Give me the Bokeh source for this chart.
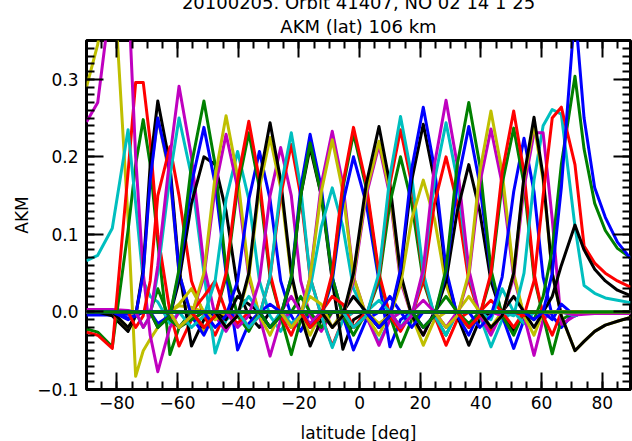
from bokeh.plotting import figure
from bokeh.models import Range1d, LinearAxis, FixedTicker, Title, ColumnDataSource, CustomJSTickFormatter
from bokeh.embed import file_html
from bokeh.resources import INLINE

# ---------------- data ----------------
lat_nodes = [-90, -86.3, -81.5, -76.3, -73.8, -71.3, -69, -66.5, -62.5, -59.5,
             -55.4, -51.3, -47.6, -44, -40.2, -36.5, -33, -29.5, -26, -22.5,
             -19.4, -16.3, -12.6, -9, -5.5, -2, 2.2, 6.4, 10, 13.5,
             17.2, 21, 24.7, 28.5, 32.2, 36, 39.6, 43.3, 47, 50.8,
             54.2, 57.5, 60.5, 63.5, 66.5, 71, 74, 77.5, 81, 85, 89.3]

# first node index of each averaging-kernel row (zero outside the listed values)
kernel_start = [0, 0, 0, 0, 0, 0, 1, 2, 0, 0, 0, 0, 3, 3, 3, 6, 4, 5, 5, 8,
                7, 7, 7, 10, 10, 9, 9, 12, 12, 11, 11, 14, 14, 13, 13, 16, 19, 15, 15, 18,
                20, 17, 17, 17, 22, 19, 19, 19, 24, 21, 21, 21, 26, 23, 23, 23, 27, 25, 25, 25,
                30, 27, 27, 27, 32, 29, 29, 29, 34, 31, 31, 31, 36, 36, 33, 33, 38, 36, 35, 35,
                39, 38, 37, 37, 42, 41, 40, 44, 44, 44, 42, 41, 0]

kernel_values = [
    [-0.004, -0.004, -0.004, -0.003, -0.002, 0.0],
    [0.0],
    [0.001, 0.001, 0.0],
    [0.0],
    [0.003, 0.003, 0.003, 0.002, 0.0],
    [0.29, 0.345, 0.46, 0.12, -0.083, -0.05, -0.035, -0.02, 0.0, 0.008, 0.006, 0.0],
    [0.0, -0.005, -0.025, -0.005, 0.0],
    [0.0, -0.008, -0.004, 0.0],
    [-0.022, -0.026, -0.045, 0.105, 0.19, 0.248, 0.19, 0.09, -0.055, -0.02, 0.0],
    [-0.026, -0.03, -0.047, 0.18, 0.296, 0.296, 0.22, 0.1, 0.0, -0.044, -0.01, 0.0],
    [0.066, 0.073, 0.108, 0.235, 0.14, 0.04, 0.02, 0.013, -0.015, 0.0],
    [0.245, 0.27, 0.42, 0.42, 0.2, 0.05, -0.03, -0.077, -0.02, 0.0],
    [-0.02, -0.005, 0.05, 0.175, 0.25, 0.175, 0.05, -0.005, -0.025],
    [-0.02, -0.005, 0.055, 0.19, 0.272, 0.19, 0.055, -0.044, -0.01],
    [-0.01, -0.005, 0.05, 0.17, 0.25, 0.18, 0.05, -0.005, -0.03, 0.0],
    [0.0, 0.03, -0.01, -0.02, -0.01, 0.0],
    [-0.02, -0.005, 0.04, 0.15, 0.213, 0.15, 0.04, -0.005, -0.03, 0.0],
    [-0.02, -0.005, 0.05, 0.175, 0.25, 0.175, 0.05, -0.053, -0.01, 0.0],
    [-0.02, -0.005, 0.06, 0.2, 0.291, 0.2, 0.06, -0.005, -0.025, 0.0],
    [0.0, 0.01, 0.03, 0.0, -0.01, 0.0],
    [-0.02, -0.005, 0.04, 0.14, 0.2, 0.19, 0.13, 0.03, -0.005, -0.02, 0.0],
    [-0.015, -0.005, 0.05, 0.165, 0.238, 0.165, 0.05, -0.049, -0.015, 0.0],
    [-0.02, -0.005, 0.055, 0.19, 0.272, 0.19, 0.055, -0.005, -0.025, 0.0],
    [0.0, 0.02, 0.04, 0.0, -0.015, 0.0],
    [-0.02, -0.005, 0.04, 0.145, 0.207, 0.145, 0.04, -0.005, -0.025, 0.0],
    [-0.02, -0.005, 0.045, 0.16, 0.229, 0.16, 0.045, -0.005, -0.057, -0.01, 0.0],
    [-0.02, -0.005, 0.05, 0.175, 0.253, 0.175, 0.05, -0.005, -0.03, 0.0],
    [0.0, -0.01, 0.02, 0.01, 0.0],
    [-0.02, -0.005, 0.04, 0.145, 0.207, 0.145, 0.04, -0.005, -0.025, 0.0],
    [-0.02, -0.005, 0.045, 0.16, 0.231, 0.16, 0.045, -0.005, -0.055, -0.01, 0.0],
    [-0.02, -0.005, 0.05, 0.17, 0.246, 0.17, 0.05, -0.005, -0.03, 0.0],
    [0.0, 0.02, 0.0, -0.02, 0.0],
    [-0.02, -0.005, 0.04, 0.15, 0.212, 0.15, 0.04, -0.005, -0.025, 0.0],
    [-0.02, -0.005, 0.045, 0.16, 0.225, 0.16, 0.045, -0.005, -0.03, 0.0],
    [-0.02, -0.005, 0.05, 0.17, 0.244, 0.17, 0.05, -0.005, -0.044, -0.01, 0.0],
    [0.0, 0.01, 0.0, -0.02, 0.0],
    [0.0, 0.02, 0.0, -0.02, 0.0],
    [-0.02, -0.005, 0.045, 0.15, 0.216, 0.15, 0.045, -0.005, -0.044, -0.01, 0.0],
    [-0.02, -0.005, 0.045, 0.16, 0.231, 0.16, 0.045, -0.005, -0.046, -0.01, 0.0],
    [0.0, 0.02, 0.0, -0.015, 0.0],
    [0.0, 0.02, 0.01, -0.02, 0.0],
    [-0.02, -0.005, 0.04, 0.15, 0.212, 0.15, 0.04, -0.048, -0.01, 0.0],
    [-0.02, -0.005, 0.045, 0.16, 0.229, 0.16, 0.045, -0.005, -0.049, -0.01, 0.0],
    [-0.02, -0.005, 0.045, 0.15, 0.218, 0.15, 0.045, -0.005, -0.03, 0.0],
    [0.0, 0.02, 0.01, -0.02, 0.0],
    [-0.015, -0.005, 0.03, 0.11, 0.16, 0.11, 0.03, -0.005, -0.04, -0.01, 0.0],
    [-0.02, -0.005, 0.045, 0.165, 0.233, 0.165, 0.045, -0.005, -0.043, -0.01, 0.0],
    [-0.02, -0.005, 0.045, 0.155, 0.222, 0.155, 0.045, -0.005, -0.03, 0.0],
    [0.0, 0.02, 0.0, -0.02, 0.0],
    [-0.02, -0.005, 0.04, 0.14, 0.2, 0.14, 0.04, -0.045, -0.01, 0.0],
    [-0.02, -0.005, 0.045, 0.16, 0.23, 0.16, 0.045, -0.005, -0.045, -0.01, 0.0],
    [-0.02, -0.005, 0.05, 0.165, 0.238, 0.165, 0.05, -0.005, -0.025, 0.0],
    [0.0, 0.015, 0.0, -0.02, 0.0],
    [-0.02, -0.005, 0.04, 0.15, 0.215, 0.15, 0.04, -0.005, -0.03, 0.0],
    [-0.02, -0.005, 0.045, 0.155, 0.22, 0.155, 0.045, -0.005, -0.043, -0.01, 0.0],
    [-0.02, -0.005, 0.05, 0.165, 0.239, 0.165, 0.05, -0.005, -0.03, 0.0],
    [0.0, 0.02, 0.0, -0.02, 0.0],
    [-0.02, -0.005, 0.04, 0.14, 0.2, 0.14, 0.04, -0.005, -0.03, 0.0],
    [-0.02, -0.005, 0.045, 0.165, 0.235, 0.165, 0.045, -0.005, -0.043, -0.01, 0.0],
    [-0.02, -0.005, 0.05, 0.175, 0.252, 0.175, 0.05, -0.005, -0.03, 0.0],
    [0.0, 0.015, 0.0, -0.02, 0.0],
    [-0.015, -0.005, 0.035, 0.12, 0.17, 0.12, 0.035, -0.005, -0.02, 0.0],
    [-0.02, -0.005, 0.05, 0.17, 0.242, 0.17, 0.05, -0.005, -0.043, -0.01, 0.0],
    [-0.02, -0.005, 0.055, 0.185, 0.264, 0.185, 0.055, -0.005, -0.03, 0.0],
    [0.0, 0.02, 0.0, -0.015, 0.0],
    [-0.02, -0.005, 0.04, 0.14, 0.2, 0.14, 0.04, -0.005, -0.025, 0.0],
    [-0.02, -0.005, 0.05, 0.17, 0.244, 0.17, 0.05, -0.005, -0.045, -0.01, 0.0],
    [-0.02, -0.005, 0.055, 0.19, 0.273, 0.19, 0.055, -0.005, -0.03, 0.0],
    [0.0, 0.02, 0.0, -0.02, 0.0],
    [-0.02, -0.005, 0.04, 0.13, 0.19, 0.13, 0.04, -0.005, -0.025, 0.0],
    [-0.02, -0.005, 0.05, 0.165, 0.239, 0.165, 0.05, -0.005, -0.047, -0.01, 0.0],
    [-0.02, -0.005, 0.055, 0.19, 0.27, 0.19, 0.055, -0.005, -0.03, 0.0],
    [0.0, 0.015, 0.0, -0.02, 0.0],
    [0.0, -0.01, 0.03, 0.0, -0.015, 0.0],
    [-0.02, -0.005, 0.045, 0.165, 0.236, 0.165, 0.045, -0.005, -0.056, -0.01, 0.0],
    [-0.02, -0.005, 0.05, 0.18, 0.259, 0.18, 0.05, -0.005, -0.03, 0.0],
    [0.0, 0.02, 0.0, -0.02, 0.0],
    [-0.02, -0.005, 0.045, 0.155, 0.224, 0.155, 0.045, -0.005, -0.02, 0.0],
    [-0.02, -0.005, 0.045, 0.165, 0.237, 0.165, 0.045, -0.005, -0.054, -0.01, 0.0],
    [-0.02, -0.005, 0.05, 0.18, 0.259, 0.18, 0.05, -0.005, -0.03, 0.0, 0.0],
    [-0.005, 0.05, 0.17, 0.24, 0.261, 0.255, 0.11, 0.034, 0.024, 0.018, 0.015, 0.012],
    [-0.005, 0.045, 0.16, 0.231, 0.231, 0.12, -0.016, -0.005, 0.0],
    [-0.02, -0.005, 0.05, 0.17, 0.242, 0.17, 0.05, -0.005, -0.05, -0.038, -0.025, -0.017, -0.012, -0.007],
    [-0.02, -0.005, 0.05, 0.175, 0.251, 0.175, 0.05, -0.005, -0.05, -0.038, -0.025, -0.017, -0.012, -0.007],
    [0.0, -0.01, 0.01, -0.005, 0.0],
    [-0.01, 0.02, 0.08, 0.19, 0.304, 0.21, 0.14, 0.105, 0.082, 0.07],
    [-0.005, 0.04, 0.15, 0.25, 0.264, 0.19, 0.085, 0.063, 0.05, 0.04, 0.032],
    [0.0, -0.005, 0.0],
    [0.0, -0.004, -0.003, -0.002, -0.002, -0.002, -0.002],
    [0.0],
    [0.0, 0.02, 0.06, 0.112, 0.08, 0.055, 0.04, 0.028, 0.021],
    [-0.01, 0.0, 0.05, 0.16, 0.39, 0.25, 0.16, 0.122, 0.09, 0.069],
    [0.0],
]

line_colors = ["#0000ff", "#008000", "#ff0000", "#00bfbf", "#bf00bf", "#bfbf00", "#000000"]

x_ticks = [-80, -60, -40, -20, 0, 20, 40, 60, 80]
x_tick_labels = ["\u221280", "\u221260", "\u221240", "\u221220", "0", "20", "40", "60", "80"]
y_ticks = [-0.1, 0.0, 0.1, 0.2, 0.3]
y_tick_labels = ["\u22120.1", "0.0", "0.1", "0.2", "0.3"]
x_minor = [-90 + 5 * i for i in range(37)]
y_minor = [round(-0.1 + 0.01 * i, 2) for i in range(46)]

title_lines = ["20100205. Orbit 41407, NO 02 14 1 25", "AKM (lat) 106 km"]
x_label = "latitude [deg]"
y_label = "AKM"

# ---------------- build ----------------
xs, ys, cs = [], [], []
for i, (s, vals) in enumerate(zip(kernel_start, kernel_values)):
    row = [0.0] * len(lat_nodes)
    row[s:s + len(vals)] = vals
    xs.append(list(lat_nodes))
    ys.append(row[:len(lat_nodes)])
    cs.append(line_colors[i % 7])

X0, X1, Y0, Y1 = -90, 89.3, -0.1, 0.35
FW, FH = 544, 349
FONT = "DejaVu Sans"

p = figure(frame_width=FW, frame_height=FH, x_range=Range1d(X0, X1), y_range=Range1d(Y0, Y1),
           output_backend="svg", toolbar_location=None,
           min_border_left=78, min_border_right=2, min_border_top=50, min_border_bottom=52,
           background_fill_color="white", border_fill_color="white")
p.styles = {"position": "absolute", "top": "-10px", "left": "8px"}

p.multi_line(xs="xs", ys="ys", line_color="color", line_width=3, line_join="round",
             source=ColumnDataSource(dict(xs=xs, ys=ys, color=cs)))

p.xgrid.visible = False
p.ygrid.visible = False
p.outline_line_color = "black"
p.outline_line_width = 3
p.outline_line_alpha = 1.0

def fmt(tvals, tlabels):
    return CustomJSTickFormatter(args=dict(tvals=tvals, tlabels=tlabels), code="""
        for (let i = 0; i < tvals.length; i++) { if (Math.abs(tvals[i] - tick) < 1e-9) return tlabels[i]; }
        return '';
    """)

def style_axis(ax, tks, minor, show_labels):
    ax.ticker = FixedTicker(ticks=tks, minor_ticks=minor)
    ax.axis_line_color = None
    ax.major_tick_in = 17
    ax.major_tick_out = 0
    ax.minor_tick_in = 8
    ax.minor_tick_out = 0
    ax.major_tick_line_width = 2
    ax.minor_tick_line_width = 2
    ax.major_tick_line_color = "black"
    ax.minor_tick_line_color = "black"
    ax.major_label_text_font = FONT
    ax.major_label_text_font_size = "17px" if show_labels else "0px"
    ax.major_label_text_color = "black"
    ax.axis_label_text_font = FONT
    ax.axis_label_text_font_size = "17px"
    ax.axis_label_text_font_style = "normal"
    ax.axis_label_text_color = "black"

xa = p.xaxis[0]
style_axis(xa, x_ticks, x_minor, True)
xa.formatter = fmt(x_ticks, x_tick_labels)
xa.axis_label = x_label
xa.major_label_standoff = 6
xa.axis_label_standoff = 11

ya = p.yaxis[0]
style_axis(ya, y_ticks, y_minor, True)
ya.formatter = fmt(y_ticks, y_tick_labels)
ya.axis_label = y_label
ya.major_label_standoff = 8
ya.axis_label_standoff = 2

top = LinearAxis()
style_axis(top, x_ticks, x_minor, False)
top.formatter = fmt(x_ticks, ["" for _ in x_ticks])
top.major_label_standoff = 0
p.add_layout(top, "above")

right = LinearAxis()
style_axis(right, y_ticks, y_minor, False)
right.formatter = fmt(y_ticks, ["" for _ in y_ticks])
right.major_label_standoff = 0
p.add_layout(right, "right")

# two-line title (inner line closest to the frame)
for text, so in zip(reversed(title_lines), [8, -6]):
    p.add_layout(Title(text=text, align="center", text_font=FONT, text_font_size="18px",
                       text_font_style="normal", text_color="black", standoff=so), "above")

open("out.html", "w").write(file_html(p, INLINE))
